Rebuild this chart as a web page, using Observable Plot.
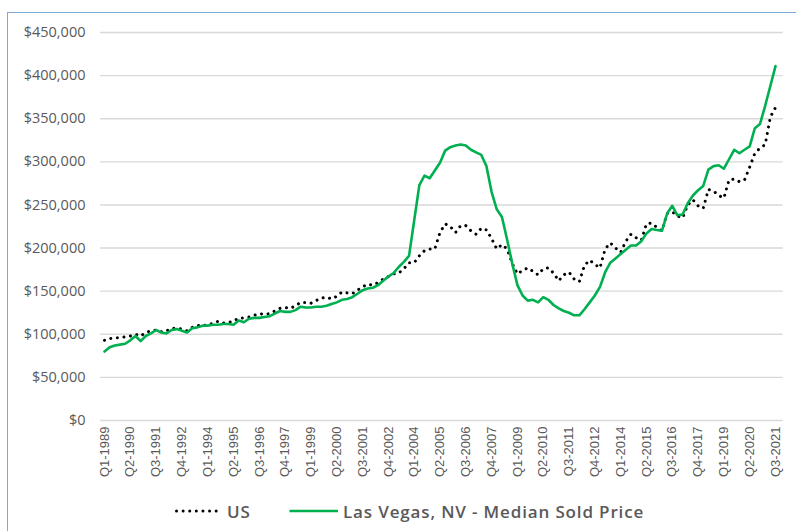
<!DOCTYPE html>
<html>
<head>
<meta charset="utf-8">
<script src="https://cdn.jsdelivr.net/npm/d3@7"></script>
<script src="https://cdn.jsdelivr.net/npm/@observablehq/plot@0.6"></script>
<style>
  html, body { margin: 0; padding: 0; background: #fff; }
  #wrap { position: relative; width: 796px; height: 531px; overflow: hidden; background: #fff; }
  #border { position: absolute; left: 7px; top: 12px; width: 800px; height: 530px;
            border-left: 1px solid #7fa9d8; border-top: 1px solid #7fa9d8; }
  #chart { position: absolute; left: 0; top: 0; }
  #legend { position: absolute; left: 0; top: 498px; width: 796px; height: 26px;
            font-family: "Open Sans", "Liberation Sans", sans-serif; font-size: 17px; font-weight: 600;
            letter-spacing: 0.85px; color: #595959; }
  .item { position: absolute; top: 0; display: flex; align-items: center; height: 26px; white-space: nowrap; }
</style>
</head>
<body>
<div id="wrap">
  <div id="border"></div>
  <div id="chart"></div>
  <div id="legend"></div>
</div>
<script>
// Quarter categories Q1-1989 .. Q3-2021
const startYear = 1989;
const nQuarters = 131;
const quarters = [];
for (let i = 0; i < nQuarters; i++) quarters.push(`Q${(i % 4) + 1}-${startYear + Math.floor(i / 4)}`);

// Tick labels shown on the x axis (every 5th quarter)
const tickLabels = ["Q1-1989","Q2-1990","Q3-1991","Q4-1992","Q1-1994","Q2-1995","Q3-1996","Q4-1997","Q1-1999",
  "Q2-2000","Q3-2001","Q4-2002","Q1-2004","Q2-2005","Q3-2006","Q4-2007","Q1-2009","Q2-2010","Q3-2011",
  "Q4-2012","Q1-2014","Q2-2015","Q3-2016","Q4-2017","Q1-2019","Q2-2020","Q3-2021"];

const yTicks = [0, 50000, 100000, 150000, 200000, 250000, 300000, 350000, 400000, 450000];

const seriesNames = ["US", "Las Vegas, NV - Median Sold Price"];

// US median price (dotted black)
const usValues = [
  93000, 95000, 96000, 96000, 97000, 98000, 100000, 98000, 102000, 104000,
  105000, 103000, 104000, 107000, 107000, 106000, 104000, 108000, 110000, 111000,
  110000, 113000, 115000, 113000, 114000, 115000, 119000, 119000, 120000, 122000,
  124000, 123000, 124000, 127000, 130000, 131000, 130000, 133000, 137000, 137000,
  136000, 139000, 142000, 143000, 141000, 144000, 149000, 148000, 147000, 151000,
  155000, 158000, 157000, 160000, 164000, 167000, 170000, 171000, 176000, 183000,
  183000, 191000, 197000, 199000, 199000, 218000, 228000, 225000, 218000, 226000,
  226000, 220000, 216000, 223000, 221000, 211000, 199000, 204000, 199000, 182000,
  170000, 174000, 177000, 173000, 169000, 176000, 177000, 171000, 162000, 169000,
  172000, 164000, 161000, 180000, 186000, 181000, 177000, 199000, 206000, 200000,
  195000, 208000, 216000, 212000, 209000, 228000, 229000, 224000, 220000, 240000,
  242000, 237000, 235000, 250000, 256000, 249000, 246000, 268000, 266000, 261000,
  258000, 279000, 280000, 277000, 279000, 294000, 310000, 316000, 320000, 352000,
  363000
];

// Las Vegas median sold price (green)
const lvValues = [
  80000, 85000, 87000, 88000, 89000, 93000, 98000, 92000, 98000, 101000,
  105000, 102000, 101000, 105000, 106000, 104000, 102000, 107000, 108000, 110000,
  110000, 111000, 111000, 112000, 112000, 111000, 116000, 114000, 118000, 119000,
  119000, 120000, 121000, 124000, 127000, 126000, 126000, 128000, 132000, 131000,
  131000, 132000, 132000, 133000, 135000, 137000, 140000, 141000, 143000, 147000,
  151000, 153000, 154000, 157000, 162000, 167000, 171000, 178000, 184000, 191000,
  232000, 273000, 284000, 281000, 290000, 299000, 313000, 317000, 319000, 320000,
  319000, 314000, 311000, 308000, 295000, 265000, 245000, 236000, 210000, 182000,
  157000, 145000, 139000, 140000, 137000, 143000, 140000, 134000, 130000, 127000,
  125000, 122000, 122000, 129000, 137000, 145000, 155000, 172000, 183000, 188000,
  193000, 198000, 203000, 203000, 208000, 217000, 222000, 221000, 220000, 240000,
  249000, 238000, 239000, 252000, 261000, 267000, 272000, 291000, 295000, 296000,
  292000, 303000, 314000, 310000, 314000, 318000, 339000, 344000, 365000, 388000,
  411000
];

const usColor = "#000000";
const lvColor = "#00b050";

const rows = quarters.map((q, i) => ({ i, q, us: usValues[i], lv: lvValues[i] }));
const tickIdx = tickLabels.map(l => quarters.indexOf(l));

const fmt = d3.format(",");

const chart = Plot.plot({
  width: 796,
  height: 490,
  marginLeft: 100,
  marginRight: 13,
  marginTop: 32,
  marginBottom: 70,
  style: { fontFamily: "'Open Sans', 'Liberation Sans', sans-serif", background: "transparent", overflow: "visible" },
  x: { type: "linear", domain: [0, nQuarters - 1], range: [104, 775] },
  y: { domain: [0, 450000], range: [420, 32] },
  marks: [
    Plot.ruleY(yTicks, { y: d => d, x1: -0.75, x2: nQuarters + 0.5, stroke: "#d9d9d9", strokeWidth: 1.4 }),
    Plot.axisY({ ticks: yTicks, tickSize: 0, tickPadding: 15, tickFormat: d => "$" + fmt(d),
                 fontSize: 14.5, fill: "#595959", label: null, style: "letter-spacing:0.45px" }),
    Plot.axisX({ ticks: tickIdx, tickSize: 0, tickPadding: 6, tickRotate: -90,
                 tickFormat: i => quarters[i], fontSize: 13, fill: "#595959", label: null,
                 fontFamily: "'Liberation Sans', Arial, sans-serif" }),
    Plot.lineY(rows, { x: "i", y: "us", stroke: usColor, strokeWidth: 3, strokeDasharray: "0.01,6.6",
                       strokeLinecap: "round", curve: "linear" }),
    Plot.lineY(rows, { x: "i", y: "lv", stroke: lvColor, strokeWidth: 2.6, strokeLinejoin: "round", curve: "linear" })
  ]
});
document.getElementById("chart").appendChild(chart);

// Legend (HTML below the chart)
const legend = document.getElementById("legend");
const items = [
  { name: seriesNames[0], left: 175, sw: 44, dash: "0.01,6.6", color: usColor, width: 3 },
  { name: seriesNames[1], left: 288, sw: 50, dash: null, color: lvColor, width: 2.6 }
];
items.forEach(it => {
  const div = document.createElement("div");
  div.className = "item";
  div.style.left = it.left + "px";
  const svg = d3.create("svg").attr("width", it.sw + 8).attr("height", 26).style("display", "block");
  svg.append("line").attr("x1", 1.5).attr("x2", it.sw).attr("y1", 13).attr("y2", 13)
    .attr("stroke", it.color).attr("stroke-width", it.width)
    .attr("stroke-linecap", it.dash ? "round" : "butt")
    .attr("stroke-dasharray", it.dash);
  div.appendChild(svg.node());
  const span = document.createElement("span");
  span.textContent = it.name;
  span.style.marginLeft = it.dash ? "0px" : "-3px";
  div.appendChild(span);
  legend.appendChild(div);
});
</script>
</body>
</html>
